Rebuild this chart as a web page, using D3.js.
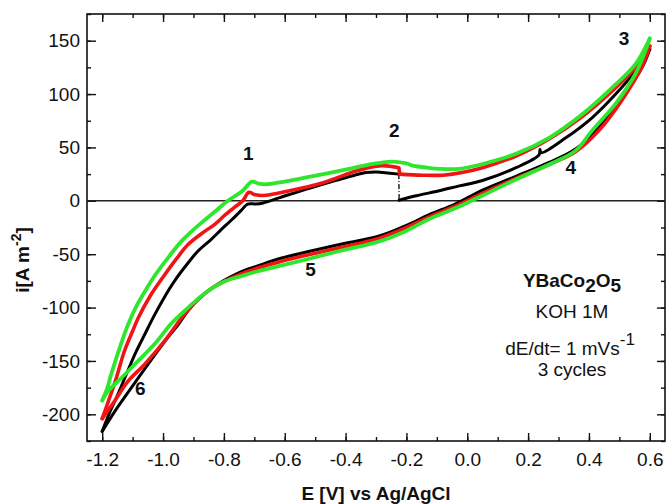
<!DOCTYPE html>
<html>
<head>
<meta charset="utf-8" />
<title>YBaCo2O5 cyclic voltammetry</title>
<script src="https://d3js.org/d3.v7.min.js"></script>
<style>
  body { margin: 0; background: #fff; }
  svg text { font-family: "Liberation Sans", Arial, sans-serif; fill: #111; }
  .tick text { font-size: 19px; }
  .lbl { font-size: 19px; font-weight: bold; }
  .note { font-size: 19px; }
</style>
</head>
<body>
<svg id="cv" width="667" height="504"></svg>
<script>
// tick labels
var xTicks = [-1.2, -1.0, -0.8, -0.6, -0.4, -0.2, 0.0, 0.2, 0.4, 0.6];
var yTicks = [-200, -150, -100, -50, 0, 50, 100, 150];

// cycle 1 (black): anodic sweep, broken at -0.22 V, then cathodic sweep
var cycle1AnodicA = [[-1.2,-216],[-1.175,-198],[-1.148,-181],[-1.12,-162],[-1.093,-144],[-1.06,-125],
  [-1.03,-108],[-0.995,-90],[-0.962,-75],[-0.92,-59],[-0.885,-47],[-0.845,-37],[-0.809,-27],
  [-0.775,-18],[-0.743,-9],[-0.722,-3],[-0.695,-3],[-0.671,-2],[-0.616,3],[-0.529,11],[-0.47,16],
  [-0.42,20],[-0.37,24],[-0.332,26.5],[-0.3,27],[-0.278,26.5],[-0.225,25]];
var cycle1AnodicB = [[-0.224,0.5],[-0.168,4.7],[-0.092,9.4],[-0.026,14],[0.05,19],[0.16,31],
  [0.236,43],[0.239,48],[0.243,45],[0.324,59],[0.411,78],[0.488,100],[0.553,122],[0.6,142]];
var cycle1Cathodic = [[0.6,142],[0.575,125],[0.51,97],[0.433,69],[0.356,48.5],[0.269,36],[0.16,23],
  [0.05,10],[-0.04,-3],[-0.125,-13],[-0.2,-23],[-0.289,-33],[-0.42,-41],[-0.529,-48],[-0.616,-54],
  [-0.689,-61],[-0.748,-67],[-0.802,-75],[-0.84,-82],[-0.879,-91],[-0.918,-103],[-0.95,-116],
  [-0.984,-128],[-1.049,-153],[-1.104,-175],[-1.158,-197],[-1.2,-216]];

// cycle 2 (red)
var cycle2AnodicA = [[-1.2,-204],[-1.18,-188],[-1.158,-170],[-1.126,-140],[-1.1,-122],[-1.082,-110],
  [-1.04,-88],[-0.994,-69],[-0.955,-54],[-0.918,-41],[-0.87,-30],[-0.83,-22],[-0.795,-13],
  [-0.765,-6],[-0.738,0],[-0.718,8],[-0.7,6],[-0.671,5],[-0.584,9.5],[-0.474,17],[-0.365,28],
  [-0.3,32.5],[-0.278,33],[-0.225,31]];
var cycle2AnodicB = [[-0.222,25],[-0.147,24],[-0.08,24],[-0.026,26],[0.05,31],[0.16,42],[0.269,58],
  [0.378,79],[0.488,106],[0.553,125],[0.6,145]];
var cycle2Cathodic = [[0.6,145],[0.575,126],[0.51,95],[0.433,66],[0.356,46],[0.269,34],[0.16,21],
  [0.05,7],[-0.04,-5],[-0.125,-15],[-0.2,-25],[-0.289,-35],[-0.42,-44],[-0.529,-51],[-0.616,-57],
  [-0.689,-63],[-0.748,-69],[-0.802,-76],[-0.84,-82],[-0.88,-91],[-0.929,-106],[-0.994,-131],
  [-1.06,-153],[-1.115,-169],[-1.158,-187],[-1.2,-204]];

// cycle 3 (green)
var cycle3Anodic = [[-1.2,-187],[-1.185,-177],[-1.17,-162],[-1.137,-133],[-1.115,-116],[-1.09,-100],
  [-1.06,-85],[-1.027,-70],[-0.98,-52],[-0.94,-38],[-0.9,-27],[-0.863,-18],[-0.825,-9],[-0.787,0],
  [-0.738,9.5],[-0.708,18],[-0.685,16],[-0.66,15.5],[-0.6,18],[-0.529,22],[-0.42,28],[-0.31,34.5],
  [-0.26,36.5],[-0.234,36.5],[-0.2,35],[-0.179,33],[-0.13,31],[-0.092,30],[-0.026,30],[0.05,34.5],
  [0.16,44],[0.269,59],[0.378,81],[0.488,109],[0.553,128],[0.6,152]];
var cycle3Cathodic = [[0.6,152],[0.575,133],[0.553,119],[0.488,91],[0.411,66],[0.356,47],[0.269,34],
  [0.16,20],[0.05,5],[-0.04,-7],[-0.125,-17],[-0.2,-28],[-0.289,-38],[-0.42,-47],[-0.529,-55],
  [-0.616,-61],[-0.689,-66],[-0.748,-71],[-0.802,-76],[-0.85,-84],[-0.89,-93],[-0.929,-103],
  [-0.973,-115],[-1.027,-134],[-1.082,-150],[-1.137,-166],[-1.18,-178],[-1.2,-187]];

// peak labels
var peakNames = ["1", "2", "3", "4", "5", "6"];
var peakAt = [[-0.72, 38], [-0.24, 60], [0.515, 146], [0.34, 25], [-0.515, -70], [-1.075, -182]];

var margin = {top: 14, right: 2, bottom: 63, left: 87};
var width = 667 - margin.left - margin.right;
var height = 504 - margin.top - margin.bottom;

var svg = d3.select("#cv");
var g = svg.append("g").attr("transform", "translate(" + margin.left + "," + margin.top + ")");

var x = d3.scaleLinear().domain([-1.25, 0.65]).range([0, width]);
var y = d3.scaleLinear().domain([-225, 175]).range([height, 0]);

var xMinor = d3.range(-1.2, 0.65, 0.1).map(function(d) { return Math.round(d * 10) / 10; });
var yMinor = d3.range(-225, 176, 25);

// minor ticks on all sides (inward)
g.append("g").attr("transform", "translate(0," + height + ")")
  .call(d3.axisBottom(x).tickValues(xMinor).tickSize(-4).tickSizeOuter(0).tickFormat(""));
g.append("g")
  .call(d3.axisTop(x).tickValues(xMinor).tickSize(-4).tickSizeOuter(0).tickFormat(""));
g.append("g")
  .call(d3.axisLeft(y).tickValues(yMinor).tickSize(-4).tickSizeOuter(0).tickFormat(""));
g.append("g").attr("transform", "translate(" + width + ",0)")
  .call(d3.axisRight(y).tickValues(yMinor).tickSize(-4).tickSizeOuter(0).tickFormat(""));

// major ticks
g.append("g").attr("transform", "translate(0," + height + ")")
  .call(d3.axisBottom(x).tickValues(xTicks).tickSize(-8).tickSizeOuter(0).tickPadding(12)
    .tickFormat(function(d) { return d.toFixed(1); }));
g.append("g")
  .call(d3.axisTop(x).tickValues(xTicks).tickSize(-8).tickSizeOuter(0).tickFormat(""));
g.append("g")
  .call(d3.axisLeft(y).tickValues(yTicks).tickSize(-9).tickSizeOuter(0).tickPadding(7)
    .tickFormat(function(d) { return String(d); }));
g.append("g").attr("transform", "translate(" + width + ",0)")
  .call(d3.axisRight(y).tickValues(yTicks).tickSize(-8).tickSizeOuter(0).tickFormat(""));

g.selectAll(".domain").remove();
g.selectAll(".tick line").attr("stroke", "#111").attr("stroke-width", 1.4);

// frame
g.append("rect").attr("width", width).attr("height", height)
  .attr("fill", "none").attr("stroke", "#111").attr("stroke-width", 1.6);

// zero line
g.append("line").attr("x1", 0).attr("x2", width).attr("y1", y(0)).attr("y2", y(0))
  .attr("stroke", "#222").attr("stroke-width", 1.5);

var line = d3.line()
  .x(function(d) { return x(d[0]); })
  .y(function(d) { return y(d[1]); })
  .curve(d3.curveCatmullRom.alpha(0.5));

var series = [
  {color: "#000000", w: 3, parts: [cycle1AnodicA, cycle1AnodicB, cycle1Cathodic], jump: "dash"},
  {color: "#f01414", w: 3.6, parts: [cycle2AnodicA, cycle2AnodicB, cycle2Cathodic], jump: "solid"},
  {color: "#2ee62e", w: 3.8, parts: [cycle3Anodic, cycle3Cathodic], jump: null}
];

series.forEach(function(s) {
  s.parts.forEach(function(p) {
    g.append("path").datum(p)
      .attr("fill", "none").attr("stroke", s.color).attr("stroke-width", s.w)
      .attr("stroke-linejoin", "round").attr("stroke-linecap", "round")
      .attr("d", line);
  });
  if (s.jump) {
    var a = s.parts[0][s.parts[0].length - 1], b = s.parts[1][0];
    g.append("line")
      .attr("x1", x(a[0])).attr("y1", y(a[1])).attr("x2", x(b[0])).attr("y2", y(b[1]))
      .attr("stroke", s.color)
      .attr("stroke-width", s.jump === "dash" ? 1.3 : s.w)
      .attr("stroke-dasharray", s.jump === "dash" ? "5,2,1,2" : null);
  }
});

// peak numbers
g.selectAll(".peak").data(peakNames).enter().append("text")
  .attr("class", "lbl")
  .attr("text-anchor", "middle")
  .attr("x", function(d, i) { return x(peakAt[i][0]); })
  .attr("y", function(d, i) { return y(peakAt[i][1]); })
  .text(function(d) { return d; });

// info block
var info = svg.append("g").attr("text-anchor", "middle");
var t1 = info.append("text").attr("class", "lbl").attr("x", 572).attr("y", 287);
t1.append("tspan").text("YBaCo");
t1.append("tspan").attr("dy", 5).text("2");
t1.append("tspan").attr("dy", -5).text("O");
t1.append("tspan").attr("dy", 5).text("5");
info.append("text").attr("class", "note").attr("x", 572).attr("y", 318).text("KOH 1M");
var t3 = info.append("text").attr("class", "note").attr("x", 570).attr("y", 355);
t3.append("tspan").text("dE/dt= 1 mVs");
t3.append("tspan").attr("dy", -10).attr("font-size", "17px").text("-1");
info.append("text").attr("class", "note").attr("x", 572).attr("y", 376).text("3 cycles");

// axis titles
svg.append("text").attr("class", "lbl").attr("text-anchor", "middle")
  .attr("x", margin.left + width / 2).attr("y", 500).text("E [V] vs Ag/AgCl");
var yt = svg.append("text").attr("class", "lbl").attr("text-anchor", "middle")
  .attr("transform", "translate(29,260) rotate(-90)");
yt.append("tspan").text("i[A m");
yt.append("tspan").attr("dy", -8).attr("font-size", "14px").text("-2");
yt.append("tspan").attr("dy", 8).text("]");
</script>
</body>
</html>
